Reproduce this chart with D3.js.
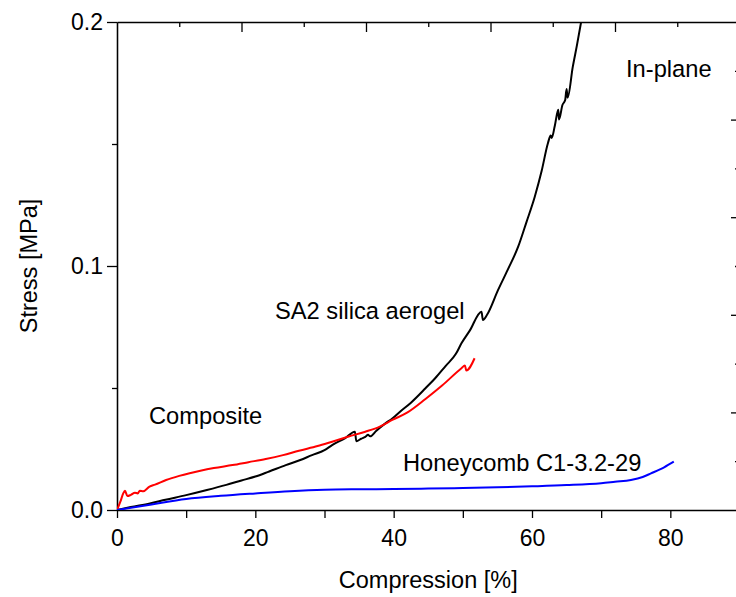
<!DOCTYPE html>
<html>
<head>
<meta charset="utf-8">
<script src="https://cdn.jsdelivr.net/npm/d3@7"></script>
<style>
  body { margin: 0; background: #fff; }
  svg { display: block; font-family: "Liberation Sans", Arial, sans-serif; }
  .axis path, .axis line { stroke: #000; stroke-width: 1.3; }
  .axis text { font-size: 23px; fill: #000; }
</style>
</head>
<body>
<div id="chart"></div>
<script>
// SA2 silica aerogel (in-plane), strain % vs stress MPa
const aerogelStrain = [0, 2, 4.75, 7, 10, 13, 15.8, 18, 20, 22, 24.4, 26.5, 28.2, 30, 31.1, 33, 34.4,
  34.6, 35.3, 35.9, 36.3, 36.6, 37.5, 38.8, 39.8, 41, 42.5, 44.6, 46, 47.5, 49, 49.8, 51, 52.7,
  52.9, 53.5, 55.1, 56.5, 58, 59.2, 60.4, 61.4, 62.3, 62.7, 62.85, 63.3, 63.8, 63.9, 64.4, 64.8,
  65, 65.15, 65.9, 66.5, 67.1, 67.4]
const aerogelStress = [0, 0.0012, 0.0027, 0.0042, 0.0061, 0.0082, 0.0103, 0.0121, 0.0137, 0.0158, 0.0184, 0.0205, 0.0225, 0.0245, 0.0266, 0.0295, 0.0321,
  0.0282, 0.0292, 0.030, 0.0308, 0.0302, 0.0325, 0.0355, 0.0375, 0.0405, 0.044, 0.0499, 0.054, 0.059, 0.064, 0.0683, 0.0735, 0.0813,
  0.0779, 0.080, 0.0902, 0.0985, 0.1079, 0.118, 0.1284, 0.139, 0.1503, 0.1535, 0.1525, 0.1575, 0.164, 0.160, 0.166, 0.168,
  0.1725, 0.169, 0.1817, 0.1905, 0.2, 0.205]

// Composite
const compositeStrain = [0, 0.5, 0.9, 1.15, 1.5, 2, 2.6, 3, 3.3, 3.8, 4.7, 5.5, 7.1, 9, 10.5, 11.9, 14, 16.7,
  19, 21.5, 24, 26.3, 29, 31.1, 33.5, 35.9, 38, 39.8, 42, 44.6, 47, 49.8, 50.3, 50.5, 51.7]
const compositeStress = [0, 0.0035, 0.0068, 0.0079, 0.0057, 0.0062, 0.0071, 0.0068, 0.0079, 0.0077, 0.0096, 0.0104, 0.0123, 0.014, 0.0151, 0.016, 0.0172, 0.0184,
  0.0196, 0.0209, 0.0225, 0.0243, 0.0262, 0.028, 0.0301, 0.0321, 0.0342, 0.0369, 0.040, 0.0455, 0.051, 0.0581, 0.0592, 0.0572, 0.0622]

// Honeycomb C1-3.2-29
const honeycombStrain = [0, 5, 10, 15, 20, 25, 30, 35, 40, 45, 50, 55, 60, 65, 70, 72, 74.3, 76, 77.2, 79.1, 80.5]
const honeycombStress = [0, 0.0023, 0.0045, 0.0058, 0.0068, 0.0077, 0.0083, 0.0085, 0.0086, 0.0088, 0.009, 0.0093, 0.0097, 0.0102, 0.011, 0.0116, 0.0123, 0.0135, 0.015, 0.0175, 0.0198]

const xTicks = [0, 10, 20, 30, 40, 50, 60, 70, 80, 90]
const xTickLabels = [0, 20, 40, 60, 80]
const yTicks = [0, 0.1, 0.2]
const yMinorTicks = [0.05, 0.15]

const series = [
  {name: "aerogel", strain: aerogelStrain, stress: aerogelStress, color: "#000000"},
  {name: "composite", strain: compositeStrain, stress: compositeStress, color: "#ff0000"},
  {name: "honeycomb", strain: honeycombStrain, stress: honeycombStress, color: "#0000ff"}
]

const labels = [
  {text: "In-plane", x: 626, y: 77},
  {text: "SA2 silica aerogel", x: 275, y: 319},
  {text: "Composite", x: 149, y: 424},
  {text: "Honeycomb C1-3.2-29", x: 403, y: 471}
]

const width = 736
const height = 597
const plot = {left: 117, right: 739.5, top: 22, bottom: 510}

const svg = d3.select("#chart").append("svg")
    .attr("width", width)
    .attr("height", height)

const x = d3.scaleLinear().domain([0, 90]).range([plot.left, plot.right])
const y = d3.scaleLinear().domain([0, 0.2]).range([plot.bottom, plot.top])

// mirror axes that belong to the neighbouring panel frame
const xTop = d3.scaleLinear().domain([0, 100]).range([plot.left, plot.right])
const yRight = d3.scaleLinear().domain([0, 1]).range([plot.bottom, plot.top])

svg.append("clipPath")
    .attr("id", "plot-clip")
  .append("rect")
    .attr("x", plot.left)
    .attr("y", plot.top)
    .attr("width", plot.right - plot.left)
    .attr("height", plot.bottom - plot.top)

// top frame
svg.append("g")
    .attr("class", "axis")
    .attr("transform", `translate(0,${plot.top})`)
    .call(d3.axisTop(xTop).tickValues(d3.range(10, 100, 20)).tickSize(-5).tickSizeOuter(0).tickFormat(""))
svg.append("g")
    .attr("class", "axis")
    .attr("transform", `translate(0,${plot.top})`)
    .call(d3.axisTop(xTop).tickValues([20, 40, 60, 80]).tickSize(-10).tickSizeOuter(0).tickFormat(""))
    .call(g => g.select(".domain").remove())

// right frame ticks
svg.append("g")
    .attr("class", "axis")
    .attr("transform", `translate(${plot.right},0)`)
    .call(d3.axisRight(yRight).tickValues([0.2, 0.4, 0.6, 0.8]).tickSize(-8.5).tickSizeOuter(0).tickFormat(""))
svg.append("g")
    .attr("class", "axis")
    .attr("transform", `translate(${plot.right},0)`)
    .call(d3.axisRight(yRight).tickValues([0.1, 0.3, 0.5, 0.7, 0.9]).tickSize(-4.5).tickSizeOuter(0).tickFormat(""))
    .call(g => g.select(".domain").remove())

// bottom axis
svg.append("g")
    .attr("class", "axis")
    .attr("transform", `translate(0,${plot.bottom})`)
    .call(d3.axisBottom(x)
      .tickValues(xTicks)
      .tickSize(8)
      .tickSizeOuter(0)
      .tickPadding(12)
      .tickFormat(d => xTickLabels.includes(d) ? d : ""))

// left axis
svg.append("g")
    .attr("class", "axis")
    .attr("transform", `translate(${plot.left},0)`)
    .call(d3.axisLeft(y)
      .tickValues(yMinorTicks)
      .tickSize(5)
      .tickSizeOuter(0)
      .tickFormat(""))
svg.append("g")
    .attr("class", "axis")
    .attr("transform", `translate(${plot.left},0)`)
    .call(d3.axisLeft(y)
      .tickValues(yTicks)
      .tickSize(10)
      .tickSizeOuter(0)
      .tickPadding(4)
      .tickFormat(d3.format(".1f")))

const line = d3.line()
    .x(d => x(d[0]))
    .y(d => y(d[1]))
    .curve(d3.curveMonotoneX)

svg.append("g")
    .attr("clip-path", "url(#plot-clip)")
  .selectAll("path")
  .data(series)
  .join("path")
    .attr("d", d => line(d3.zip(d.strain, d.stress)))
    .attr("fill", "none")
    .attr("stroke", d => d.color)
    .attr("stroke-width", 2)
    .attr("stroke-linejoin", "round")

svg.append("g")
  .selectAll("text")
  .data(labels)
  .join("text")
    .attr("x", d => d.x)
    .attr("y", d => d.y)
    .attr("font-size", 23.7)
    .text(d => d.text)

svg.append("text")
    .attr("x", (plot.left + plot.right) / 2)
    .attr("y", 588)
    .attr("text-anchor", "middle")
    .attr("font-size", 23.5)
    .text("Compression [%]")

svg.append("text")
    .attr("transform", `translate(37,${(plot.top + plot.bottom) / 2}) rotate(-90)`)
    .attr("text-anchor", "middle")
    .attr("font-size", 23.5)
    .text("Stress [MPa]")
</script>
</body>
</html>
